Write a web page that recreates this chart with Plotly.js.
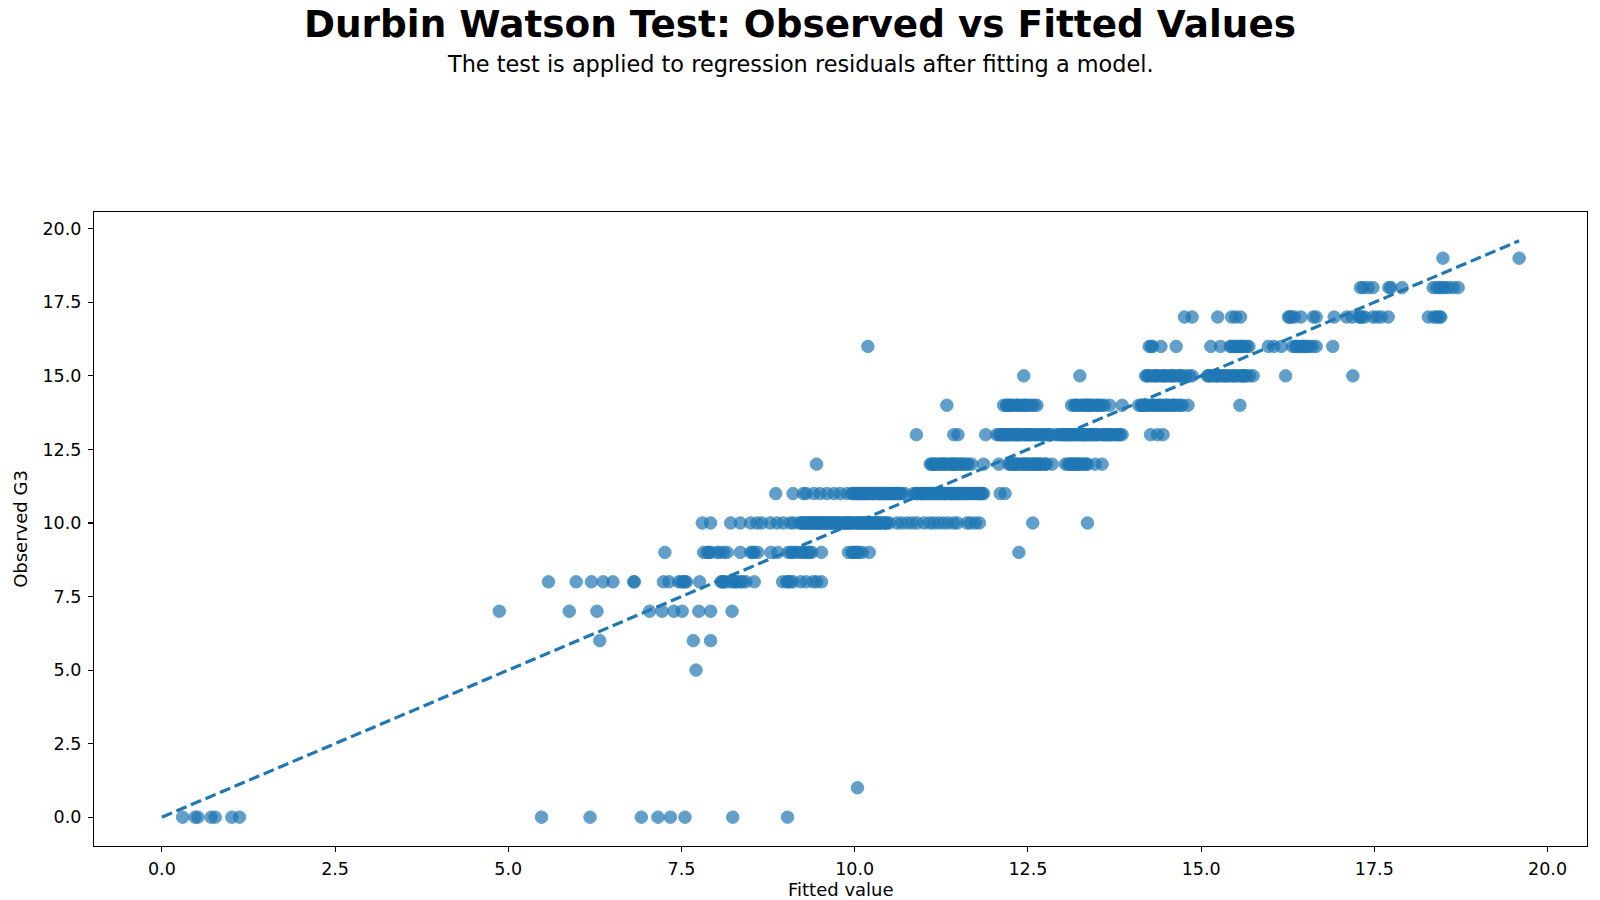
<!DOCTYPE html>
<html>
<head>
<meta charset="utf-8">
<script src="https://cdn.plot.ly/plotly-3.0.1.min.js"></script>
<style>
  html, body { margin: 0; padding: 0; background: #ffffff; }
  #chart { width: 1600px; height: 900px; }
</style>
</head>
<body>
<div id="chart"></div>
<script>
// ---- Data: fitted values, grouped by observed G3 grade ----
const observedLevels = [0, 1, 5, 6, 7, 8, 9, 10, 11, 12, 13, 14, 15, 16, 17, 18, 19];

const fit_g0 = [0.30, 0.48, 0.52, 0.71, 0.77, 1.01, 1.12, 5.48, 6.18, 6.92, 7.16, 7.34, 7.55, 8.24, 9.03];
const fit_g1 = [10.04];
const fit_g5 = [7.71];
const fit_g6 = [6.32, 7.67, 7.92];
const fit_g7 = [4.87, 5.88, 6.28, 7.04, 7.22, 7.39, 7.51, 7.75, 7.92, 8.23];
const fit_g8 = [5.58, 5.98, 6.20, 6.37, 6.51, 6.81, 6.82, 7.24, 7.32, 7.46, 7.50, 7.53, 7.55, 7.57, 7.76,
  8.07, 8.09, 8.11, 8.13, 8.20, 8.25, 8.28, 8.30, 8.35, 8.38, 8.43, 8.55, 8.96, 9.02, 9.04, 9.07, 9.11,
  9.22, 9.30, 9.40, 9.45, 9.52];
const fit_g9 = [7.26, 7.82, 7.87, 7.90, 7.92, 8.01, 8.05, 8.11, 8.16, 8.35, 8.50, 8.53, 8.55, 8.60, 8.79,
  8.89, 9.04, 9.08, 9.11, 9.16, 9.21, 9.25, 9.28, 9.33, 9.35, 9.38, 9.52, 9.91, 9.96, 9.98, 10.01, 10.04,
  10.06, 10.11, 10.21, 12.37];
const fit_g10 = [7.80, 7.92, 8.21, 8.35, 8.50, 8.59, 8.66, 8.78, 8.88, 8.97, 9.07, 9.12,
  9.20, 9.23, 9.26, 9.29, 9.32, 9.35, 9.38, 9.41, 9.44, 9.47, 9.50, 9.53, 9.56, 9.59, 9.62, 9.65, 9.68,
  9.71, 9.74, 9.77, 9.80, 9.83, 9.86, 9.89, 9.92, 9.95, 9.98, 10.01, 10.04, 10.07, 10.10, 10.13, 10.16,
  10.19, 10.22, 10.25, 10.28, 10.31, 10.34, 10.37, 10.40, 10.43, 10.46, 10.50,
  10.61, 10.68, 10.76, 10.83, 10.90, 11.00, 11.08, 11.14, 11.21, 11.28, 11.35, 11.43, 11.48, 11.62,
  11.67, 11.74, 11.80, 12.57, 13.36,
  9.25, 9.35, 9.45, 9.55, 9.65, 9.75, 9.85, 9.95, 10.05, 10.15, 10.24, 10.36, 10.45, 9.40, 9.60, 9.90,
  10.20, 10.09, 9.70, 9.50, 10.30, 9.30];
const fit_g11 = [8.86, 9.11, 9.26, 9.30, 9.41, 9.50, 9.60, 9.70, 9.79, 9.89,
  9.96, 10.00, 10.03, 10.06, 10.10, 10.13, 10.16, 10.20, 10.23, 10.26, 10.30, 10.33, 10.36, 10.40, 10.43,
  10.46, 10.50, 10.53, 10.56, 10.60, 10.64, 10.68, 10.72,
  10.85, 10.88, 10.91, 10.95, 10.98, 11.02, 11.05, 11.09, 11.12, 11.16, 11.19, 11.23, 11.26, 11.30,
  11.33, 11.37, 11.40, 11.44, 11.47, 11.51, 11.54, 11.58, 11.61, 11.65, 11.68, 11.72, 11.75, 11.79,
  11.82, 11.86, 12.10, 12.17,
  10.05, 10.15, 10.25, 10.35, 10.45, 10.55, 10.65, 10.90, 11.00, 11.10, 11.20, 11.30, 11.40, 11.50,
  11.60, 11.70, 11.80, 10.08, 10.28, 10.48, 10.62, 10.97, 11.14, 11.35, 11.55, 11.77, 11.42, 11.25,
  10.38, 10.18, 9.98, 10.12, 10.42, 10.58, 11.07, 11.28, 11.48, 11.63, 11.84];
const fit_g12 = [9.45,
  11.09, 11.13, 11.17, 11.21, 11.25, 11.29, 11.33, 11.37, 11.41, 11.45, 11.49, 11.53, 11.57, 11.61,
  11.64, 11.69, 11.86, 12.08,
  12.22, 12.25, 12.29, 12.33, 12.37, 12.41, 12.45, 12.49, 12.53, 12.57, 12.61, 12.65, 12.69, 12.73,
  12.77, 12.85,
  13.04, 13.08, 13.12, 13.16, 13.20, 13.24, 13.28, 13.32, 13.36, 13.47, 13.57,
  11.15, 11.23, 11.31, 11.39, 11.47, 11.55, 12.27, 12.35, 12.43, 12.51, 12.59, 12.67, 12.75, 13.10,
  13.18, 13.26, 13.34, 11.11, 11.27, 11.43, 12.31, 12.47, 12.63, 13.14, 13.22];
const fit_g13 = [10.89, 11.43, 11.49, 11.89,
  12.05, 12.08, 12.11, 12.14, 12.18, 12.21, 12.25, 12.28, 12.32, 12.36, 12.40, 12.44, 12.48, 12.52,
  12.56, 12.60, 12.64, 12.68, 12.72, 12.76, 12.80, 12.83,
  12.90, 12.94, 12.97, 13.01, 13.04, 13.08, 13.12, 13.15, 13.19, 13.23, 13.27, 13.31, 13.35, 13.39,
  13.43, 13.47, 13.51, 13.55, 13.59, 13.63, 13.67, 13.71, 13.75, 13.79, 13.83, 13.86,
  14.27, 14.37, 14.45,
  12.12, 12.22, 12.30, 12.38, 12.46, 12.54, 12.62, 12.70, 12.78, 13.00, 13.10, 13.20, 13.30, 13.40,
  13.50, 13.60, 13.70, 13.80, 12.16, 12.34, 13.06, 13.25, 13.45, 13.65, 12.50, 13.14, 13.33];
const fit_g14 = [11.33, 12.15, 12.19, 12.23, 12.27, 12.31, 12.35, 12.39, 12.43, 12.47, 12.51, 12.55,
  12.59, 12.63, 13.13, 13.17, 13.21, 13.25, 13.29, 13.33, 13.37, 13.41, 13.45, 13.49, 13.53, 13.57,
  13.60, 13.68, 13.86, 14.10, 14.14, 14.18, 14.22, 14.26, 14.30, 14.34, 14.38, 14.42, 14.46, 14.50,
  14.54, 14.58, 14.62, 14.66, 14.70, 14.73, 14.81, 15.56,
  12.25, 12.45, 13.20, 13.35, 13.50, 14.20, 14.40, 14.60, 12.35, 13.30, 14.30, 14.50, 13.40, 14.15, 12.20];
const fit_g15 = [12.44, 13.25, 14.20, 14.24, 14.28, 14.32, 14.36, 14.40, 14.44, 14.48, 14.52, 14.56,
  14.60, 14.64, 14.68, 14.72, 14.78, 14.83, 14.87, 15.09, 15.13, 15.17, 15.21, 15.25, 15.29, 15.33,
  15.37, 15.41, 15.45, 15.49, 15.53, 15.57, 15.61, 15.65, 15.70, 15.75, 16.22, 17.19,
  14.22, 14.34, 14.46, 14.58, 14.70, 15.11, 15.23, 15.35, 15.47, 15.59, 15.63];
const fit_g16 = [10.19, 14.25, 14.30, 14.42, 14.64, 15.14, 15.28, 15.42, 15.46, 15.49, 15.53, 15.56,
  15.60, 15.63, 15.69, 15.97, 16.05, 16.16, 16.32, 16.36, 16.40, 16.44, 16.48, 16.53, 16.57, 16.61,
  16.66, 16.90, 15.44, 15.58, 16.38, 16.50, 14.28, 15.66, 16.46, 15.51];
const fit_g17 = [14.76, 14.87, 15.24, 15.44, 15.50, 15.57, 16.26, 16.30, 16.35, 16.44, 16.62, 16.66,
  16.92, 17.10, 17.18, 17.28, 17.32, 17.36, 17.48, 17.54, 17.60, 17.70, 18.28, 18.36, 18.40, 18.44,
  18.46, 17.30, 16.28];
const fit_g18 = [17.30, 17.34, 17.41, 17.48, 17.71, 17.74, 17.90, 18.35, 18.40, 18.44, 18.48, 18.52,
  18.57, 18.64, 18.71];
const fit_g19 = [18.49, 19.59];

const fittedByLevel = [fit_g0, fit_g1, fit_g5, fit_g6, fit_g7, fit_g8, fit_g9, fit_g10, fit_g11,
  fit_g12, fit_g13, fit_g14, fit_g15, fit_g16, fit_g17, fit_g18, fit_g19];

// ---- Build scatter arrays ----
const fitted = [];
const observed = [];
fittedByLevel.forEach((arr, i) => {
  arr.forEach(v => { fitted.push(v); observed.push(observedLevels[i]); });
});

const lo = Math.min(Math.min(...fitted), Math.min(...observed));
const hi = Math.max(Math.max(...fitted), Math.max(...observed));
const pad = 0.05 * (hi - lo);
const axRange = [lo - pad, hi + pad];

const blue = '#1f77b4';
const FONT = 'DejaVu Sans, Liberation Sans, sans-serif';

const traces = [
  {
    type: 'scatter', mode: 'markers',
    x: fitted, y: observed,
    marker: { color: blue, size: 12.5, opacity: 0.7, line: { color: blue, width: 1 } },
    hoverinfo: 'x+y', showlegend: false
  },
  {
    type: 'scatter', mode: 'lines',
    x: [lo, hi], y: [lo, hi],
    line: { color: blue, width: 3.2, dash: '11px,4.8px' },
    hoverinfo: 'skip', showlegend: false
  }
];

const axisCommon = {
  range: axRange, tick0: 0, dtick: 2.5, tickformat: '.1f',
  showgrid: false, zeroline: false,
  showline: true, mirror: true, linecolor: '#000', linewidth: 1.1,
  ticks: 'outside', ticklen: 5, tickwidth: 1.1, tickcolor: '#000',
  tickfont: { family: FONT, size: 17.5, color: '#000' }
};

const plotLeft = 94, plotBottom = 845.9, plotW = 1600 - 94 - 13.2, plotH = 845.9 - 212.2;

const layout = {
  width: 1600, height: 900,
  margin: { l: plotLeft, r: 13.2, t: 212.2, b: 900 - plotBottom, pad: 0 },
  paper_bgcolor: '#ffffff', plot_bgcolor: '#ffffff',
  font: { family: FONT, color: '#000' },
  title: {
    text: '<b>Durbin Watson Test: Observed vs Fitted Values</b>',
    font: { family: FONT, size: 37.4, color: '#000' },
    xref: 'container', x: 0.5, xanchor: 'center',
    yref: 'container', y: 0.9735, yanchor: 'middle'
  },
  xaxis: Object.assign({}, axisCommon, { ticklabelstandoff: 2 }),
  yaxis: Object.assign({}, axisCommon, {
    ticklabelstandoff: 3,
    title: { text: 'Observed G3', font: { family: FONT, size: 18, color: '#000' }, standoff: 10 }
  }),
  annotations: [
    {
      text: 'The test is applied to regression residuals after fitting a model.',
      xref: 'paper', yref: 'paper',
      x: (800 - plotLeft) / plotW, y: (plotBottom - 64.5) / plotH,
      xanchor: 'center', yanchor: 'middle', showarrow: false,
      font: { family: FONT, size: 22.4, color: '#000' }
    },
    {
      text: 'Fitted value',
      xref: 'paper', yref: 'paper',
      x: 0.5, y: (plotBottom - 889.5) / plotH,
      xanchor: 'center', yanchor: 'middle', showarrow: false,
      font: { family: FONT, size: 18, color: '#000' }
    }
  ]
};

Plotly.newPlot('chart', traces, layout, { displayModeBar: false, staticPlot: true });
</script>
</body>
</html>
